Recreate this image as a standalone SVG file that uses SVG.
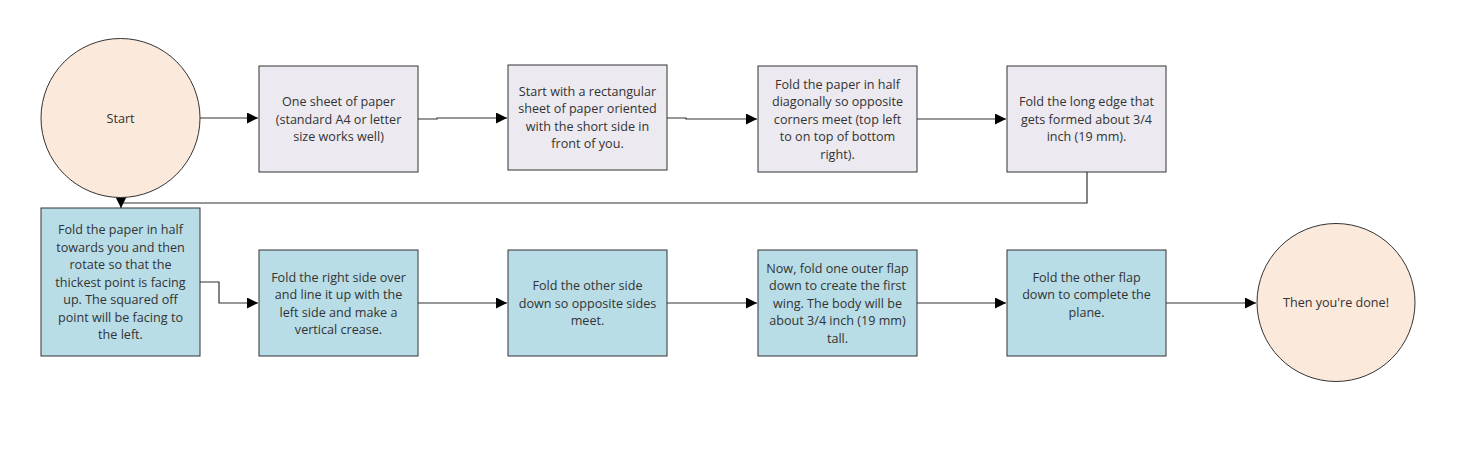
<svg xmlns="http://www.w3.org/2000/svg" width="1458" height="470" viewBox="0 0 1458 470">
<style>
.n1{fill:#fbe9dc;stroke:#333;stroke-width:1}
.n2{fill:#ece9f0;stroke:#333;stroke-width:1}
.n3{fill:#b8dde7;stroke:#333;stroke-width:1}
text{font-family:"Open Sans","Noto Sans",sans-serif;font-size:12.6px;fill:#333;text-anchor:middle;dominant-baseline:central}
.c{fill:none;stroke:#333;stroke-width:1.2}
</style>
<defs>
<marker id="a" viewBox="0 0 10 10" refX="10" refY="5" markerWidth="11" markerHeight="11" markerUnits="userSpaceOnUse" orient="auto">
<path d="M0,0 L10,5 L0,10 z" fill="#000"/>
</marker>
</defs>
<rect width="1458" height="470" fill="#fff"/>
<g id="connectors">
<path class="c" d="M200,118 H258" marker-end="url(#a)"/>
<path class="c" d="M418,119 H437 V118 H507" marker-end="url(#a)"/>
<path class="c" d="M667,118 H686 V119 H757" marker-end="url(#a)"/>
<path class="c" d="M917,119 H1006" marker-end="url(#a)"/>
<path class="c" d="M1087,172 V203 H121 V208" marker-end="url(#a)"/>
<path class="c" d="M200,282 H219 V303 H258" marker-end="url(#a)"/>
<path class="c" d="M418,303 H507" marker-end="url(#a)"/>
<path class="c" d="M667,303 H757" marker-end="url(#a)"/>
<path class="c" d="M917,303 H1006" marker-end="url(#a)"/>
<path class="c" d="M1166,303 H1256" marker-end="url(#a)"/>
</g>
<g id="start">
<circle class="n1" cx="120.5" cy="118" r="79.5"/>
<text x="120.5" y="118">Start</text>
</g>
<g id="step1">
<rect class="n2" x="259" y="66" width="159" height="106"/>
<text x="338.5" y="101.5">One sheet of paper</text>
<text x="338.5" y="119">(standard A4 or letter</text>
<text x="338.5" y="136.5">size works well)</text>
</g>
<g id="step2">
<rect class="n2" x="508" y="65" width="159" height="105"/>
<text x="587.5" y="91">Start with a rectangular</text>
<text x="587.5" y="108.5">sheet of paper oriented</text>
<text x="587.5" y="126">with the short side in</text>
<text x="587.5" y="143.5">front of you.</text>
</g>
<g id="step3">
<rect class="n2" x="758" y="66" width="159" height="106"/>
<text x="837.5" y="84">Fold the paper in half</text>
<text x="837.5" y="101.5">diagonally so opposite</text>
<text x="837.5" y="119">corners meet (top left</text>
<text x="837.5" y="136.5">to on top of bottom</text>
<text x="837.5" y="154">right).</text>
</g>
<g id="step4">
<rect class="n2" x="1007" y="66" width="159" height="106"/>
<text x="1086.5" y="101.5">Fold the long edge that</text>
<text x="1086.5" y="119">gets formed about 3/4</text>
<text x="1086.5" y="136.5">inch (19 mm).</text>
</g>
<g id="step5">
<rect class="n3" x="41" y="208" width="159" height="148"/>
<text x="120.5" y="229.5">Fold the paper in half</text>
<text x="120.5" y="247">towards you and then</text>
<text x="120.5" y="264.5">rotate so that the</text>
<text x="120.5" y="282">thickest point is facing</text>
<text x="120.5" y="299.5">up. The squared off</text>
<text x="120.5" y="317">point will be facing to</text>
<text x="120.5" y="334.5">the left.</text>
</g>
<g id="step6">
<rect class="n3" x="259" y="250" width="159" height="106"/>
<text x="338.5" y="277">Fold the right side over</text>
<text x="338.5" y="294.5">and line it up with the</text>
<text x="338.5" y="312">left side and make a</text>
<text x="338.5" y="329.5">vertical crease.</text>
</g>
<g id="step7">
<rect class="n3" x="508" y="250" width="159" height="106"/>
<text x="587.5" y="285.5">Fold the other side</text>
<text x="587.5" y="303">down so opposite sides</text>
<text x="587.5" y="320.5">meet.</text>
</g>
<g id="step8">
<rect class="n3" x="758" y="250" width="159" height="106"/>
<text x="837.5" y="268">Now, fold one outer flap</text>
<text x="837.5" y="285.5">down to create the first</text>
<text x="837.5" y="303">wing. The body will be</text>
<text x="837.5" y="320.5">about 3/4 inch (19 mm)</text>
<text x="837.5" y="338">tall.</text>
</g>
<g id="step9">
<rect class="n3" x="1007" y="250" width="159" height="106"/>
<text x="1086.5" y="277">Fold the other flap</text>
<text x="1086.5" y="294.5">down to complete the</text>
<text x="1086.5" y="312">plane.</text>
</g>
<g id="end">
<circle class="n1" cx="1336" cy="302.5" r="79"/>
<text x="1336" y="302.5">Then you're done!</text>
</g>
</svg>
